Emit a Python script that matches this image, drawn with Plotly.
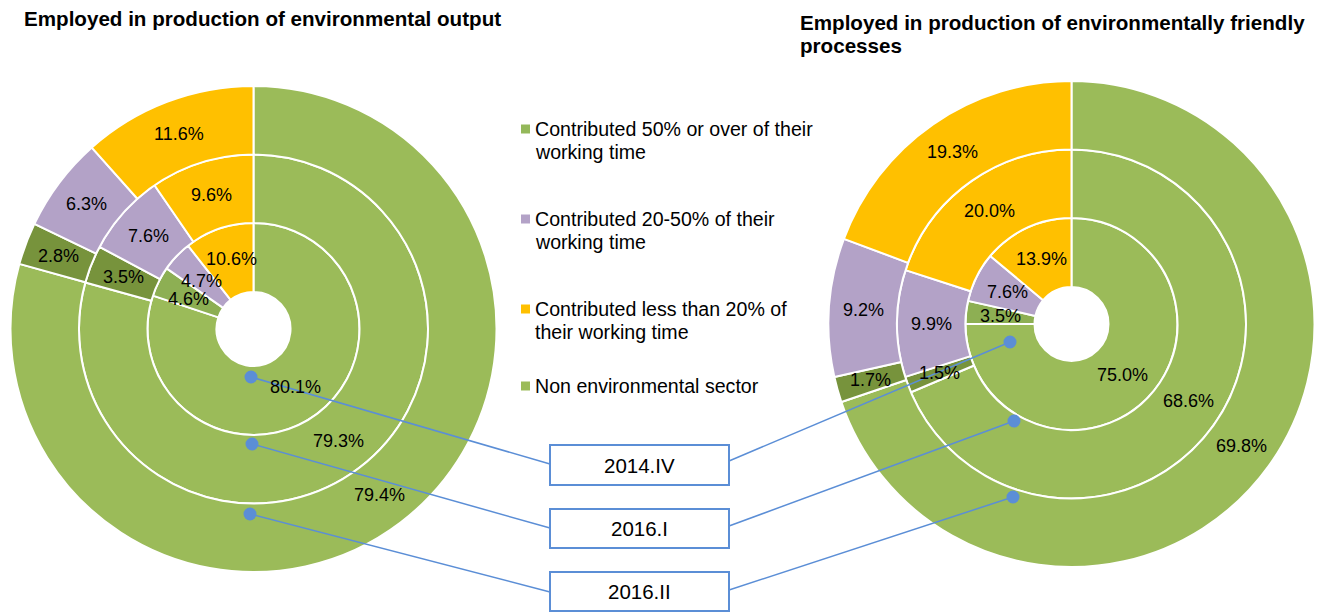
import numpy as np
import plotly.graph_objects as go

W, H = 1326, 612
FONT = "Liberation Sans, Arial, sans-serif"

# ---------------- data ----------------
categories = ["Non environmental sector",
              "Contributed 50% or over of their working time",
              "Contributed 20-50% of their working time",
              "Contributed less than 20% of their working time"]
periods = ["2014.IV", "2016.I", "2016.II"]          # inner -> outer ring

output_2014_IV = [80.1, 4.6, 4.7, 10.6]
output_2016_I = [79.3, 3.5, 7.6, 9.6]
output_2016_II = [79.4, 2.8, 6.3, 11.6]

process_2014_IV = [75.0, 3.5, 7.6, 13.9]
process_2016_I = [68.6, 1.5, 9.9, 20.0]
process_2016_II = [69.8, 1.7, 9.2, 19.3]

title_lines = [["Employed in production of environmental output"],
               ["Employed in production of environmentally friendly", "processes"]]

legend_lines = [["Contributed 50% or over of their", "working time"],
                ["Contributed 20-50% of their", "working time"],
                ["Contributed less than 20% of", "their working time"],
                ["Non environmental sector"]]

# ---------------- style / layout ----------------
ring_colors = [["#9BBB59", "#8DAF53", "#B3A2C7", "#FFC000"],   # inner ring
               ["#9BBB59", "#77933C", "#B3A2C7", "#FFC000"],   # middle ring
               ["#9BBB59", "#77933C", "#B3A2C7", "#FFC000"]]   # outer ring
legend_colors = ["#94B85A", "#B3A2C7", "#FFC000", "#9BBB59"]
BLUE = "#5B8ED6"

charts = [dict(cx=253.5, cy=329.0, rings=[output_2014_IV, output_2016_I, output_2016_II],
               title_x=22, title_y=[18]),
          dict(cx=1071.5, cy=324.0, rings=[process_2014_IV, process_2016_I, process_2016_II],
               title_x=798, title_y=[23, 46])]
radii = [37.0, 106.0, 174.5, 243.0]

# tiny label nudges (chart, ring, category) -> (dx, dy) px to keep crowded labels apart
nudges = {(0, 0, 3): (1, -2), (0, 0, 2): (0, 1), (0, 0, 1): (-1, 2)}


def px(x):
    return x / W


def py(y):
    return 1 - y / H


fig = go.Figure()
annotations = []
shapes = []

for ci, ch in enumerate(charts):
    cx, cy = ch["cx"], ch["cy"]
    for ri, vals in enumerate(ch["rings"]):
        r_in, r_out = radii[ri], radii[ri + 1]
        fig.add_trace(go.Pie(
            values=vals, labels=categories, name=periods[ri],
            sort=False, direction="clockwise", rotation=0,
            hole=r_in / r_out,
            domain=dict(x=[px(cx - r_out), px(cx + r_out)],
                        y=[py(cy + r_out), py(cy - r_out)]),
            marker=dict(colors=ring_colors[ri], line=dict(color="white", width=2)),
            textinfo="none", hoverinfo="label+value", showlegend=False))
        # value labels at slice centroids
        v = np.array(vals, dtype=float)
        cum = np.cumsum(v) - v / 2
        theta = 2 * np.pi * cum / v.sum()
        rm = (r_in + r_out) / 2
        for k, val in enumerate(vals):
            dx, dy = nudges.get((ci, ri, k), (0, 0))
            x = cx + rm * np.sin(theta[k]) + dx
            y = cy - rm * np.cos(theta[k]) + dy
            annotations.append(dict(x=px(x), y=py(y), xref="paper", yref="paper",
                                    text=f"{val:.1f}%", showarrow=False,
                                    xanchor="center", yanchor="middle",
                                    font=dict(family=FONT, size=18, color="black")))
    for li, line in enumerate(title_lines[ci]):
        annotations.append(dict(x=px(ch["title_x"]), y=py(ch["title_y"][li]),
                                xref="paper", yref="paper", text=f"<b>{line}</b>",
                                showarrow=False, xanchor="left", yanchor="middle",
                                font=dict(family=FONT, size=20.6, color="black")))

# ---------------- legend (manual) ----------------
legend_x = 521
legend_item_y = [129, 219, 309, 386]
line_gap = 23
for i, lines in enumerate(legend_lines):
    y0 = legend_item_y[i]
    shapes.append(dict(type="rect", xref="paper", yref="paper",
                       x0=px(legend_x), x1=px(legend_x + 9), y0=py(y0 + 4.5), y1=py(y0 - 4.5),
                       fillcolor=legend_colors[i], line=dict(width=0)))
    for j, t in enumerate(lines):
        annotations.append(dict(x=px(legend_x + 12), y=py(y0 + j * line_gap),
                                xref="paper", yref="paper", text=t, showarrow=False,
                                xanchor="left", yanchor="middle",
                                font=dict(family=FONT, size=19.6, color="black")))

# ---------------- callouts ----------------
box_x = (550, 729)
box_y = [(445, 485), (509, 548), (572, 611)]
left_dots = [(251, 377), (252, 444), (250, 514)]
right_dots = [(1010, 342), (1014, 421), (1013, 497)]
left_end_y = [464, 528, 592]
right_start_y = [461, 526, 590]
dot_r = 6.5

for i, period in enumerate(periods):
    lx, ly = left_dots[i]
    rx, ry = right_dots[i]
    shapes.append(dict(type="line", xref="paper", yref="paper",
                       x0=px(lx), y0=py(ly), x1=px(box_x[0]), y1=py(left_end_y[i]),
                       line=dict(color=BLUE, width=1.5)))
    shapes.append(dict(type="line", xref="paper", yref="paper",
                       x0=px(box_x[1]), y0=py(right_start_y[i]), x1=px(rx), y1=py(ry),
                       line=dict(color=BLUE, width=1.5)))
    for (dx_, dy_) in [(lx, ly), (rx, ry)]:
        shapes.append(dict(type="circle", xref="paper", yref="paper",
                           x0=px(dx_ - dot_r), x1=px(dx_ + dot_r),
                           y0=py(dy_ + dot_r), y1=py(dy_ - dot_r),
                           fillcolor=BLUE, line=dict(width=0)))
    shapes.append(dict(type="rect", xref="paper", yref="paper",
                       x0=px(box_x[0]), x1=px(box_x[1]),
                       y0=py(box_y[i][1]), y1=py(box_y[i][0]),
                       fillcolor="white", line=dict(color=BLUE, width=2)))
    annotations.append(dict(x=px((box_x[0] + box_x[1]) / 2), y=py((box_y[i][0] + box_y[i][1]) / 2),
                            xref="paper", yref="paper", text=period, showarrow=False,
                            xanchor="center", yanchor="middle",
                            font=dict(family=FONT, size=20.5, color="black")))

fig.update_layout(width=W, height=H, margin=dict(l=0, r=0, t=0, b=0),
                  paper_bgcolor="white", plot_bgcolor="white",
                  showlegend=False, annotations=annotations, shapes=shapes)

fig.write_html("out.html", config={"displayModeBar": False},
               post_script="document.body.style.margin='0';document.body.style.overflow='hidden';")
